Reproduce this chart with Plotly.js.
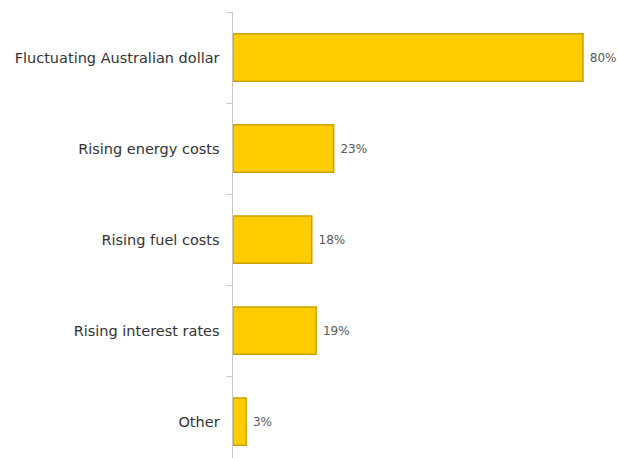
<!DOCTYPE html>
<html><head><meta charset="utf-8">
<script src="https://cdn.plot.ly/plotly-3.0.1.min.js"></script>
<style>html,body{margin:0;padding:0;background:#fff}#chart{width:618px;height:458px}</style>
</head><body><div id="chart"></div>
<script>
const categories = ["Other", "Rising interest rates", "Rising fuel costs", "Rising energy costs", "Fluctuating Australian dollar"];
const values = [3, 19, 18, 23, 80];
const labels = ["3%", "19%", "18%", "23%", "80%"];

const trace = {
  type: "bar",
  orientation: "h",
  y: categories,
  x: values,
  text: labels.map(t => " " + t),
  textposition: "outside",
  cliponaxis: false,
  textfont: {family: "DejaVu Sans", size: 12, color: "#595959"},
  width: 0.52,
  marker: {color: "#FFCC00", line: {color: "#C9A200", width: 1.5}},
  hoverinfo: "none"
};

const layout = {
  width: 618, height: 458,
  margin: {l: 233, r: 0, t: 12, b: 0},
  paper_bgcolor: "#fff", plot_bgcolor: "#fff",
  showlegend: false,
  xaxis: {range: [0, 88], visible: false, showgrid: false, zeroline: false},
  yaxis: {
    type: "category",
    range: [-0.4, 4.5],
    showline: true, linecolor: "#C8C8C8", linewidth: 1.5,
    ticks: "outside", tickson: "boundaries", ticklen: 6, tickcolor: "#C8C8C8", tickwidth: 1,
    ticklabelstandoff: 9,
    tickfont: {family: "DejaVu Sans", size: 14.5, color: "#333333"},
    showgrid: false, zeroline: false
  }
};

Plotly.newPlot("chart", [trace], layout, {displayModeBar: false, staticPlot: true});
</script></body></html>
